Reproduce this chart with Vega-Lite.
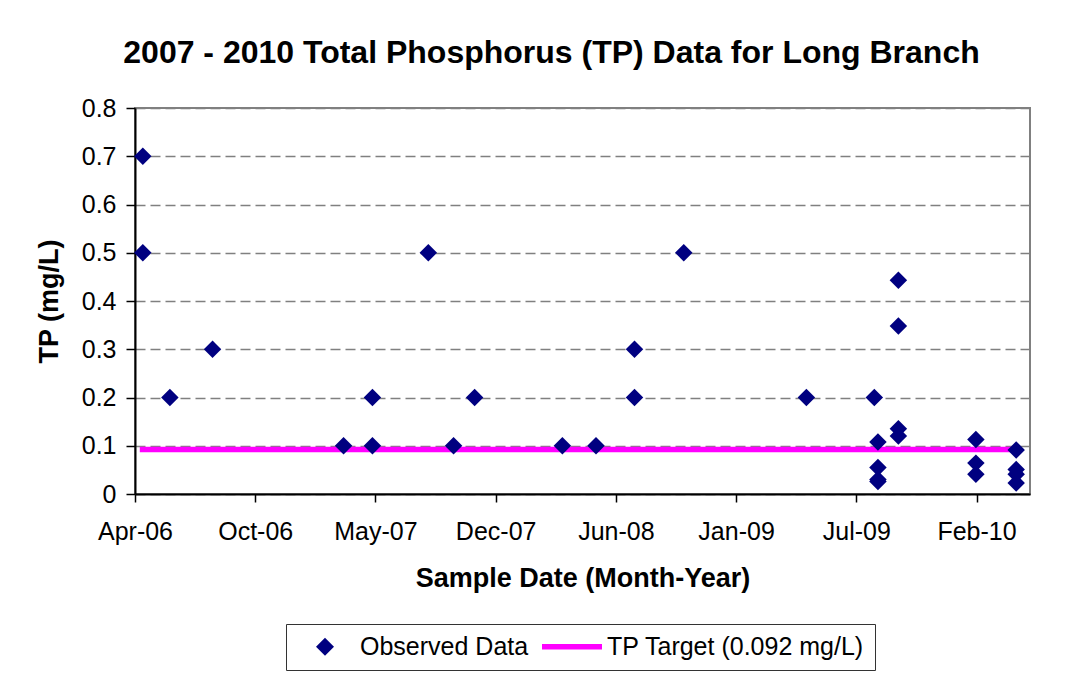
{
  "$schema": "https://vega.github.io/schema/vega-lite/v6.json",
  "width": 895,
  "height": 386,
  "autosize": "none",
  "padding": {"left": 135, "top": 108, "right": 54, "bottom": 181},
  "background": "white",
  "title": {
    "text": "2007 - 2010 Total Phosphorus (TP) Data for Long Branch",
    "font": "Liberation Sans",
    "fontSize": 32,
    "fontWeight": "bold",
    "color": "black",
    "anchor": "middle",
    "dx": -31,
    "offset": 26
  },
  "datasets": {
    "observed": [
      {"date": "2006-04-26", "tp": 0.7, "series": "Observed Data"},
      {"date": "2006-04-26", "tp": 0.5, "series": "Observed Data"},
      {"date": "2006-06-10", "tp": 0.2, "series": "Observed Data"},
      {"date": "2006-08-20", "tp": 0.3, "series": "Observed Data"},
      {"date": "2007-03-26", "tp": 0.1, "series": "Observed Data"},
      {"date": "2007-05-13", "tp": 0.2, "series": "Observed Data"},
      {"date": "2007-05-13", "tp": 0.1, "series": "Observed Data"},
      {"date": "2007-08-14", "tp": 0.5, "series": "Observed Data"},
      {"date": "2007-09-25", "tp": 0.1, "series": "Observed Data"},
      {"date": "2007-10-30", "tp": 0.2, "series": "Observed Data"},
      {"date": "2008-03-24", "tp": 0.1, "series": "Observed Data"},
      {"date": "2008-05-19", "tp": 0.1, "series": "Observed Data"},
      {"date": "2008-07-22", "tp": 0.3, "series": "Observed Data"},
      {"date": "2008-07-22", "tp": 0.2, "series": "Observed Data"},
      {"date": "2008-10-12", "tp": 0.5, "series": "Observed Data"},
      {"date": "2009-05-04", "tp": 0.2, "series": "Observed Data"},
      {"date": "2009-08-25", "tp": 0.2, "series": "Observed Data"},
      {"date": "2009-08-31", "tp": 0.108, "series": "Observed Data"},
      {"date": "2009-08-31", "tp": 0.055, "series": "Observed Data"},
      {"date": "2009-08-31", "tp": 0.03, "series": "Observed Data"},
      {"date": "2009-08-31", "tp": 0.026, "series": "Observed Data"},
      {"date": "2009-10-04", "tp": 0.443, "series": "Observed Data"},
      {"date": "2009-10-04", "tp": 0.348, "series": "Observed Data"},
      {"date": "2009-10-04", "tp": 0.135, "series": "Observed Data"},
      {"date": "2009-10-04", "tp": 0.12, "series": "Observed Data"},
      {"date": "2010-02-10", "tp": 0.113, "series": "Observed Data"},
      {"date": "2010-02-10", "tp": 0.064, "series": "Observed Data"},
      {"date": "2010-02-10", "tp": 0.041, "series": "Observed Data"},
      {"date": "2010-04-18", "tp": 0.091, "series": "Observed Data"},
      {"date": "2010-04-18", "tp": 0.051, "series": "Observed Data"},
      {"date": "2010-04-18", "tp": 0.041, "series": "Observed Data"},
      {"date": "2010-04-18", "tp": 0.023, "series": "Observed Data"}
    ],
    "target": [
      {"date": "2006-04-21", "tp": 0.092, "series": "TP Target (0.092 mg/L)"},
      {"date": "2010-04-13", "tp": 0.092, "series": "TP Target (0.092 mg/L)"}
    ]
  },
  "config": {
    "font": "Liberation Sans",
    "view": {"stroke": "#808080", "strokeWidth": 2},
    "axis": {
      "labelFont": "Liberation Sans",
      "labelFontSize": 25,
      "labelColor": "black",
      "titleFont": "Liberation Sans",
      "titleFontSize": 27,
      "titleFontWeight": "bold",
      "titleColor": "black",
      "domainColor": "black",
      "domainWidth": 2,
      "tickColor": "black",
      "tickWidth": 1.5
    }
  },
  "layer": [
    {
      "data": {"name": "target"},
      "mark": {"type": "line", "color": "#FF00FF", "strokeWidth": 5.5, "strokeCap": "butt"},
      "encoding": {
        "x": {"field": "date", "type": "temporal"},
        "y": {"field": "tp", "type": "quantitative"}
      }
    },
    {
      "data": {"name": "observed"},
      "mark": {"type": "point", "filled": true, "size": 416, "opacity": 1, "strokeWidth": 0},
      "encoding": {
        "x": {
          "field": "date",
          "type": "temporal",
          "scale": {"type": "utc", "domain": [{"year": 2006, "month": 4, "date": 13, "utc": true}, {"year": 2010, "month": 5, "date": 11, "utc": true}], "nice": false},
          "axis": {
            "title": "Sample Date (Month-Year)",
            "format": "%b-%y",
            "values": [
              {"year": 2006, "month": 4, "date": 13, "utc": true},
              {"year": 2006, "month": 10, "date": 30, "utc": true},
              {"year": 2007, "month": 5, "date": 18, "utc": true},
              {"year": 2007, "month": 12, "date": 4, "utc": true},
              {"year": 2008, "month": 6, "date": 21, "utc": true},
              {"year": 2009, "month": 1, "date": 7, "utc": true},
              {"year": 2009, "month": 7, "date": 26, "utc": true},
              {"year": 2010, "month": 2, "date": 11, "utc": true}
            ],
            "grid": false,
            "tickSize": 8,
            "labelPadding": 17,
            "titlePadding": 21,
            "labelFlush": false,
            "labelOverlap": false
          }
        },
        "y": {
          "field": "tp",
          "type": "quantitative",
          "scale": {"domain": [0, 0.8], "nice": false, "zero": true},
          "axis": {
            "title": "TP (mg/L)",
            "values": [0, 0.1, 0.2, 0.3, 0.4, 0.5, 0.6, 0.7, 0.8],
            "format": "~f",
            "grid": true,
            "gridColor": "#808080",
            "gridWidth": 1.5,
            "gridDash": [10, 5],
            "tickSize": 9,
            "labelPadding": 10,
            "titlePadding": 18,
            "labelFlush": false
          }
        },
        "color": {
          "field": "series",
          "type": "nominal",
          "scale": {"domain": ["Observed Data", "TP Target (0.092 mg/L)"], "range": ["#000080", "#FF00FF"]},
          "legend": {
            "title": null,
            "orient": "none",
            "legendX": 151,
            "legendY": 516,
            "direction": "horizontal",
            "strokeColor": "#333333",
            "padding": 10,
            "columnPadding": 13,
            "labelOffset": 22.5,
            "symbolOffset": 16.5,
            "labelFont": "Liberation Sans",
            "labelFontSize": 25,
            "labelColor": "black",
            "labelLimit": 400,
            "symbolSize": 441,
            "symbolStrokeWidth": 0,
            "symbolOpacity": 1
          }
        },
        "shape": {
          "field": "series",
          "type": "nominal",
          "scale": {
            "domain": ["Observed Data", "TP Target (0.092 mg/L)"],
            "range": ["M-0.857,0L0,-0.857L0.857,0L0,0.857Z", "M-2.857,-0.262L2.857,-0.262L2.857,0.262L-2.857,0.262Z"]
          },
          "legend": {
            "title": null,
            "orient": "none",
            "legendX": 151,
            "legendY": 516,
            "direction": "horizontal",
            "strokeColor": "#333333",
            "padding": 10,
            "columnPadding": 13,
            "labelOffset": 22.5,
            "symbolOffset": 16.5,
            "labelFont": "Liberation Sans",
            "labelFontSize": 25,
            "labelColor": "black",
            "labelLimit": 400,
            "symbolSize": 441,
            "symbolStrokeWidth": 0,
            "symbolOpacity": 1
          }
        }
      }
    }
  ]
}
